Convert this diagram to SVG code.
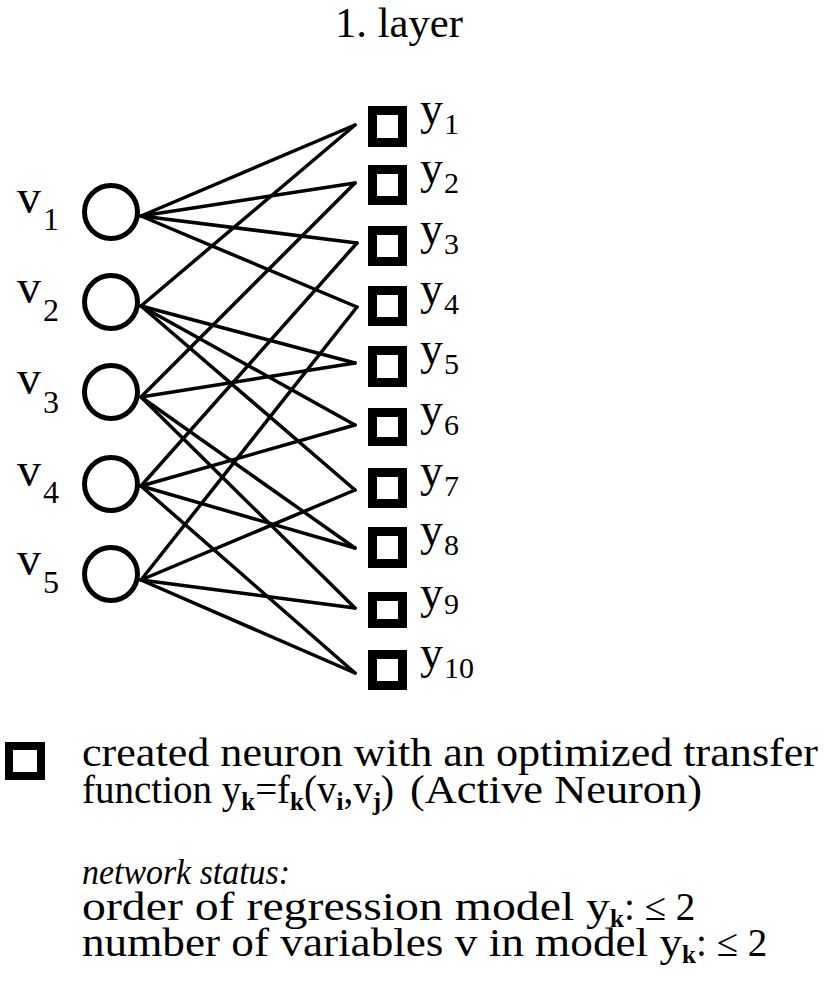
<svg xmlns="http://www.w3.org/2000/svg" width="824" height="987" viewBox="0 0 824 987">
<style>
text{font-family:"Liberation Serif","Times New Roman",serif;fill:#000}
.inp{fill:none;stroke:#000;stroke-width:5}
.out{fill:#fff;stroke:#000;stroke-width:9}
.edge{stroke:#000;stroke-width:3.5;stroke-linecap:round;fill:none}
.vl{font-size:48px}
.vs{font-size:32px}
.yl{font-size:46px}
.ys{font-size:30px}
.t{font-size:39px}
.sb{font-size:25px;font-weight:bold}
</style>
<rect width="824" height="987" fill="#fff"/>
<text id="title" x="335" y="37" font-size="42" textLength="128" lengthAdjust="spacingAndGlyphs">1. layer</text>
<g id="connectors">
<line class="edge" x1="141" y1="216" x2="355" y2="125"/>
<line class="edge" x1="141" y1="216" x2="355" y2="183"/>
<line class="edge" x1="141" y1="216" x2="357" y2="243"/>
<line class="edge" x1="141" y1="216" x2="357" y2="307"/>
<line class="edge" x1="141" y1="306" x2="355" y2="125"/>
<line class="edge" x1="141" y1="306" x2="355" y2="363"/>
<line class="edge" x1="141" y1="306" x2="355" y2="425"/>
<line class="edge" x1="141" y1="306" x2="355" y2="490"/>
<line class="edge" x1="141" y1="397" x2="355" y2="183"/>
<line class="edge" x1="141" y1="397" x2="355" y2="363"/>
<line class="edge" x1="141" y1="397" x2="355" y2="548"/>
<line class="edge" x1="141" y1="397" x2="355" y2="608"/>
<line class="edge" x1="141" y1="486" x2="357" y2="243"/>
<line class="edge" x1="141" y1="486" x2="355" y2="425"/>
<line class="edge" x1="141" y1="486" x2="355" y2="548"/>
<line class="edge" x1="141" y1="486" x2="355" y2="673"/>
<line class="edge" x1="141" y1="580" x2="357" y2="307"/>
<line class="edge" x1="141" y1="580" x2="355" y2="490"/>
<line class="edge" x1="141" y1="580" x2="355" y2="608"/>
<line class="edge" x1="141" y1="580" x2="355" y2="673"/>
</g>
<g id="v1"><circle class="inp" cx="111" cy="212" r="26.5"/><text class="vl" x="17" y="213">v</text><text class="vs" x="43" y="230">1</text></g>
<g id="v2"><circle class="inp" cx="111" cy="302" r="26.5"/><text class="vl" x="17" y="303">v</text><text class="vs" x="43" y="321">2</text></g>
<g id="v3"><circle class="inp" cx="111" cy="392" r="26.5"/><text class="vl" x="17" y="394">v</text><text class="vs" x="43" y="413">3</text></g>
<g id="v4"><circle class="inp" cx="111" cy="484" r="26.5"/><text class="vl" x="17" y="486">v</text><text class="vs" x="43" y="503">4</text></g>
<g id="v5"><circle class="inp" cx="111" cy="574" r="26.5"/><text class="vl" x="17" y="575">v</text><text class="vs" x="43" y="593">5</text></g>
<g id="y1"><rect class="out" x="372.5" y="110.5" width="30" height="32"/><text class="yl" x="420" y="124">y</text><text class="ys" x="444" y="134">1</text></g>
<g id="y2"><rect class="out" x="372.5" y="169.5" width="30" height="31"/><text class="yl" x="420" y="183">y</text><text class="ys" x="444" y="193">2</text></g>
<g id="y3"><rect class="out" x="372.5" y="230.5" width="30" height="31"/><text class="yl" x="420" y="244">y</text><text class="ys" x="444" y="254">3</text></g>
<g id="y4"><rect class="out" x="372.5" y="290.5" width="30" height="31"/><text class="yl" x="420" y="304">y</text><text class="ys" x="444" y="314">4</text></g>
<g id="y5"><rect class="out" x="372.5" y="350.5" width="30" height="32"/><text class="yl" x="420" y="364">y</text><text class="ys" x="444" y="374">5</text></g>
<g id="y6"><rect class="out" x="372.5" y="412.5" width="30" height="29"/><text class="yl" x="420" y="425">y</text><text class="ys" x="444" y="435">6</text></g>
<g id="y7"><rect class="out" x="372.5" y="472.5" width="30" height="31"/><text class="yl" x="420" y="486">y</text><text class="ys" x="444" y="496">7</text></g>
<g id="y8"><rect class="out" x="372.5" y="531.5" width="30" height="32"/><text class="yl" x="420" y="545">y</text><text class="ys" x="444" y="555">8</text></g>
<g id="y9"><rect class="out" x="372.5" y="596.5" width="30" height="27"/><text class="yl" x="420" y="608">y</text><text class="ys" x="444" y="614">9</text></g>
<g id="y10"><rect class="out" x="372.5" y="654.5" width="30" height="31"/><text class="yl" x="420" y="668">y</text><text class="ys" x="444" y="678">10</text></g>
<g id="legend">
<rect x="9" y="746" width="32" height="30" fill="#fff" stroke="#000" stroke-width="8"/>
<text class="t" x="82" y="766" textLength="736" lengthAdjust="spacingAndGlyphs">created neuron with an optimized transfer</text>
<text class="t" y="803"><tspan x="82">function y</tspan><tspan class="sb" dy="7">k</tspan><tspan dy="-7">=f</tspan><tspan class="sb" dy="7">k</tspan><tspan dy="-7">(v</tspan><tspan class="sb" dy="7">i</tspan><tspan dy="-7">,v</tspan><tspan class="sb" dy="7">j</tspan><tspan dy="-7">)</tspan></text>
<text class="t" x="410" y="803" textLength="292" lengthAdjust="spacingAndGlyphs">(Active Neuron)</text>
</g>
<g id="status">
<text x="82" y="884" font-size="36" font-style="italic" textLength="208" lengthAdjust="spacingAndGlyphs">network status:</text>
<text class="t" y="920"><tspan x="82" textLength="528" lengthAdjust="spacingAndGlyphs">order of regression model y</tspan><tspan class="sb" dy="7">k</tspan><tspan dy="-7">: ≤ 2</tspan></text>
<text class="t" y="956"><tspan x="82" textLength="600" lengthAdjust="spacingAndGlyphs">number of variables v in model y</tspan><tspan class="sb" dy="7">k</tspan><tspan dy="-7">: ≤ 2</tspan></text>
</g>
</svg>
